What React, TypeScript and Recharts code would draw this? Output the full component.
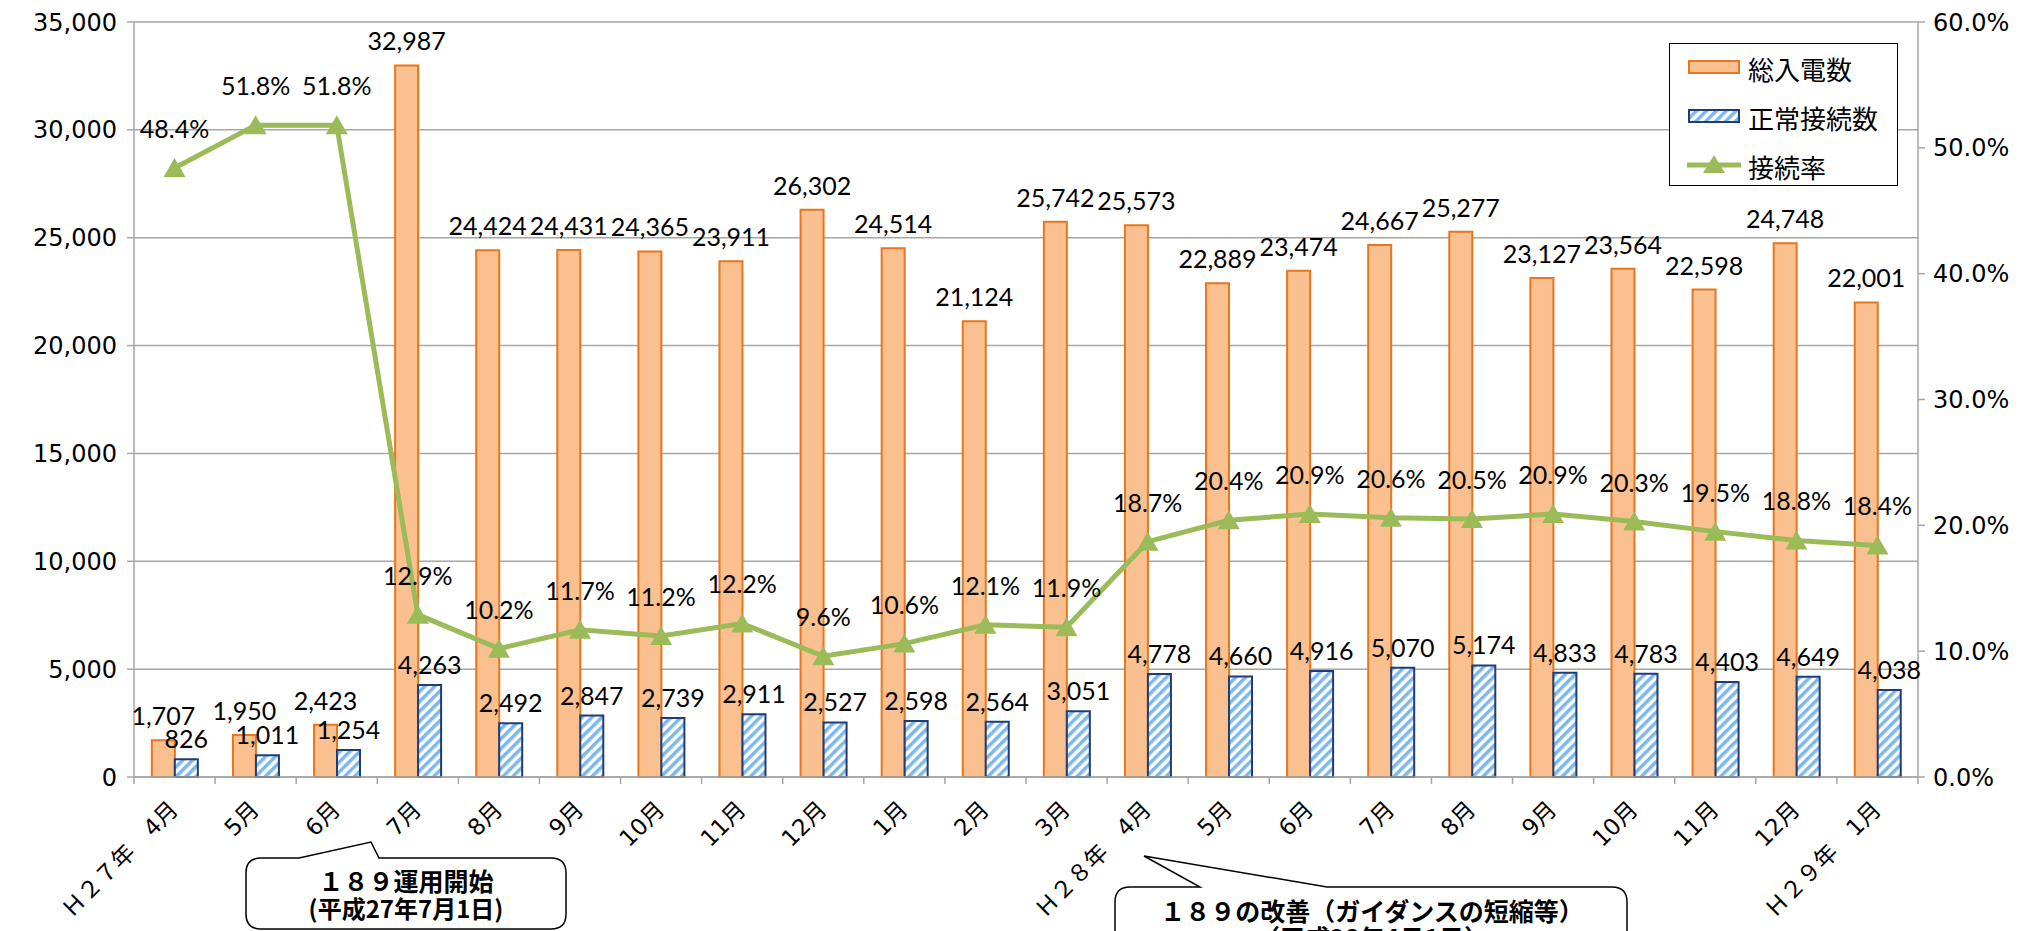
import React from 'react';
import {
  ComposedChart,
  Bar,
  Line,
  XAxis,
  YAxis,
  CartesianGrid,
  LabelList,
  Legend,
  Customized,
} from 'recharts';

// 月別データ（H27年4月〜H29年1月）
const months = [
  'Ｈ２７年　4月', '5月', '6月', '7月', '8月', '9月', '10月', '11月', '12月', '1月', '2月', '3月',
  'Ｈ２８年　4月', '5月', '6月', '7月', '8月', '9月', '10月', '11月', '12月', 'Ｈ２９年　1月',
];
const totalCalls = [
  1707, 1950, 2423, 32987, 24424, 24431, 24365, 23911, 26302, 24514, 21124, 25742,
  25573, 22889, 23474, 24667, 25277, 23127, 23564, 22598, 24748, 22001,
];
const connectedCalls = [
  826, 1011, 1254, 4263, 2492, 2847, 2739, 2911, 2527, 2598, 2564, 3051,
  4778, 4660, 4916, 5070, 5174, 4833, 4783, 4403, 4649, 4038,
];
const connectRate = [
  48.4, 51.8, 51.8, 12.9, 10.2, 11.7, 11.2, 12.2, 9.6, 10.6, 12.1, 11.9,
  18.7, 20.4, 20.9, 20.6, 20.5, 20.9, 20.3, 19.5, 18.8, 18.4,
];
const leftTicks = [0, 5000, 10000, 15000, 20000, 25000, 30000, 35000];
const rightTicks = [0, 10, 20, 30, 40, 50, 60];

const chartData = months.map((m, i) => ({
  month: m,
  total: totalCalls[i],
  connected: connectedCalls[i],
  rate: connectRate[i],
}));

const ORANGE_FILL = '#FAC090';
const ORANGE_LINE = '#E8761E';
const BLUE_LINE = '#1F3C78';
const BLUE_STRIPE = '#7DB8E8';
const GREEN = '#9BBB59';
const GRID = '#A6A6A6';
const AXIS_FONT = "'DejaVu Sans', 'Noto Sans CJK JP', sans-serif";
const LABEL_FONT = "Lato, 'Noto Sans', sans-serif";
const JP_FONT = "'Noto Sans CJK JP', sans-serif";

const Triangle = (props: any) => {
  const { cx, cy } = props;
  if (cx == null || cy == null) return null;
  return (
    <polygon
      points={`${cx},${cy - 10} ${cx + 11},${cy + 9} ${cx - 11},${cy + 9}`}
      fill={GREEN}
    />
  );
};

// 月ラベル（-45度回転、目盛線は項目の境界）
const XTick = (props: any) => {
  const { x, y, payload, index } = props;
  const off = payload && payload.offset ? payload.offset : 40.6;
  const ax = x + 5;
  const ay = y + 34;
  return (
    <g>
      <line x1={x - off} y1={y} x2={x - off} y2={y + 7} stroke={GRID} strokeWidth={1.5} />
      {index === months.length - 1 && (
        <line x1={x + off} y1={y} x2={x + off} y2={y + 7} stroke={GRID} strokeWidth={1.5} />
      )}
      <text
        x={ax}
        y={ay}
        textAnchor="end"
        transform={`rotate(-45, ${ax}, ${ay})`}
        fontFamily={AXIS_FONT}
        fontSize={23}
        fill="#000"
      >
        {payload.value}
      </text>
    </g>
  );
};

// 吹き出し（注記）
const Callouts = () => (
  <g>
    <path
      d="M 261 858 L 299 858 L 371 842 L 379 858 L 551 858 Q 566 858 566 873 L 566 914 Q 566 929 551 929 L 261 929 Q 246 929 246 914 L 246 873 Q 246 858 261 858 Z"
      fill="#fff"
      stroke="#000"
      strokeWidth={1.5}
    />
    <text x={406} y={891} textAnchor="middle" fontFamily={JP_FONT} fontWeight="bold" fontSize={25} fill="#000">
      １８９運用開始
    </text>
    <text x={406} y={918} textAnchor="middle" fontFamily={JP_FONT} fontWeight="bold" fontSize={24} fill="#000">
      (平成27年7月1日)
    </text>
    <path
      d="M 1130 887 L 1200 887 L 1144 856 L 1327 887 L 1612 887 Q 1627 887 1627 902 L 1627 960 L 1115 960 L 1115 902 Q 1115 887 1130 887 Z"
      fill="#fff"
      stroke="#000"
      strokeWidth={1.5}
    />
    <text x={1372} y={921} textAnchor="middle" fontFamily={JP_FONT} fontWeight="bold" fontSize={25} fill="#000">
      １８９の改善（ガイダンスの短縮等）
    </text>
    <text x={1372} y={948} textAnchor="middle" fontFamily={JP_FONT} fontWeight="bold" fontSize={25} fill="#000">
      （平成28年4月1日）
    </text>
  </g>
);

const LegendBox = () => {
  const rows = [
    {
      name: '総入電数',
      icon: <rect x={2} y={2} width={50} height={12} fill={ORANGE_FILL} stroke={ORANGE_LINE} strokeWidth={2} />,
    },
    {
      name: '正常接続数',
      icon: <rect x={2} y={2} width={50} height={12} fill="url(#stripes)" stroke={BLUE_LINE} strokeWidth={2} />,
    },
    {
      name: '接続率',
      icon: (
        <g>
          <line x1={0} y1={8} x2={54} y2={8} stroke={GREEN} strokeWidth={5} />
          <polygon points="27,-2 38,16 16,16" fill={GREEN} />
        </g>
      ),
    },
  ];
  return (
    <div
      style={{
        width: 229,
        height: 143,
        border: '1.5px solid #000',
        background: '#fff',
        boxSizing: 'border-box',
      }}
    >
      {rows.map((r) => (
        <div key={r.name} style={{ display: 'flex', alignItems: 'center', height: 49 }}>
          <svg width={56} height={20} style={{ marginLeft: 17, overflow: 'visible' }}>
            {r.icon}
          </svg>
          <span style={{ marginLeft: 5, fontFamily: JP_FONT, fontSize: 26, color: '#000', lineHeight: '30px' }}>
            {r.name}
          </span>
        </div>
      ))}
    </div>
  );
};

export default function App() {
  return (
    <div style={{ position: 'absolute', left: 0, top: 0, background: '#fff' }}>
      <ComposedChart
        width={2037}
        height={931}
        data={chartData}
        margin={{ top: 22, right: 0, bottom: 0, left: 0 }}
        barCategoryGap="22%"
        barGap={0}
      >
        <defs>
          <pattern id="stripes" patternUnits="userSpaceOnUse" width={7} height={7} patternTransform="rotate(45)">
            <rect x={0} y={0} width={7} height={7} fill="#fff" />
            <rect x={0} y={0} width={3.5} height={7} fill={BLUE_STRIPE} />
          </pattern>
        </defs>
        <CartesianGrid yAxisId="left" vertical={false} stroke={GRID} strokeWidth={1.5} />
        <XAxis
          dataKey="month"
          height={154}
          interval={0}
          tickLine={false}
          tickSize={0}
          tickMargin={0}
          axisLine={{ stroke: GRID, strokeWidth: 1.5 }}
          tick={<XTick />}
        />
        <YAxis
          yAxisId="left"
          width={134}
          domain={[0, 35000]}
          ticks={leftTicks}
          tickSize={7}
          tickMargin={10}
          tickFormatter={(v: number) => v.toLocaleString('en-US')}
          axisLine={{ stroke: GRID, strokeWidth: 1.5 }}
          tickLine={{ stroke: GRID, strokeWidth: 1.5 }}
          tick={{ fontFamily: AXIS_FONT, fontSize: 24, fill: '#000' }}
        />
        <YAxis
          yAxisId="right"
          orientation="right"
          width={119}
          domain={[0, 60]}
          ticks={rightTicks}
          tickSize={7}
          tickMargin={8}
          tickFormatter={(v: number) => `${v.toFixed(1)}%`}
          axisLine={{ stroke: GRID, strokeWidth: 1.5 }}
          tickLine={{ stroke: GRID, strokeWidth: 1.5 }}
          tick={{ fontFamily: AXIS_FONT, fontSize: 24, fill: '#000' }}
        />
        <Legend
          layout="horizontal"
          verticalAlign="middle"
          align="center"
          wrapperStyle={{ position: 'absolute', left: 1669, top: 43, width: 229 }}
          content={() => <LegendBox />}
        />
        <Bar
          yAxisId="left"
          dataKey="total"
          name="総入電数"
          fill={ORANGE_FILL}
          stroke={ORANGE_LINE}
          strokeWidth={2}
          isAnimationActive={false}
        >
          <LabelList
            dataKey="total"
            position="top"
            offset={15}
            formatter={(v: any) => Number(v).toLocaleString('en-US')}
            fontFamily={LABEL_FONT}
            fontSize={25}
            fill="#000"
          />
        </Bar>
        <Bar
          yAxisId="left"
          dataKey="connected"
          name="正常接続数"
          fill="url(#stripes)"
          stroke={BLUE_LINE}
          strokeWidth={2}
          isAnimationActive={false}
        >
          <LabelList
            dataKey="connected"
            position="top"
            offset={11}
            formatter={(v: any) => Number(v).toLocaleString('en-US')}
            fontFamily={LABEL_FONT}
            fontSize={25}
            fill="#000"
          />
        </Bar>
        <Line
          yAxisId="right"
          type="linear"
          dataKey="rate"
          name="接続率"
          stroke={GREEN}
          strokeWidth={5}
          dot={<Triangle />}
          activeDot={false}
          isAnimationActive={false}
        >
          <LabelList
            dataKey="rate"
            position="top"
            offset={30}
            formatter={(v: any) => `${Number(v).toFixed(1)}%`}
            fontFamily={LABEL_FONT}
            fontSize={25}
            fill="#000"
          />
        </Line>
        <Customized component={<Callouts />} />
      </ComposedChart>
    </div>
  );
}
